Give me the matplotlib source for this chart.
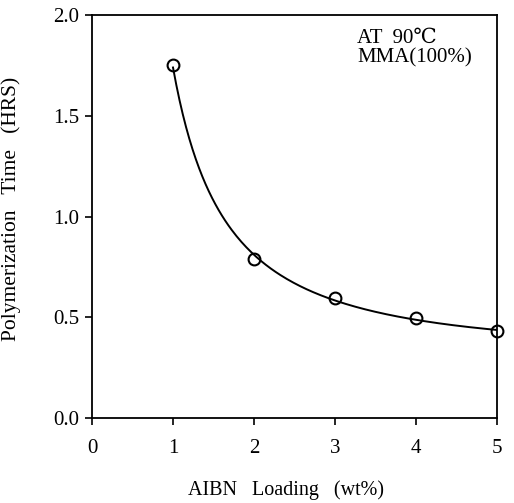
import numpy as np
import matplotlib
matplotlib.use('Agg')
import matplotlib.pyplot as plt

plt.rcParams['font.family'] = ['Liberation Serif', 'DejaVu Serif']

aibn = [1, 2, 3, 4, 5]
poly_time = [1.75, 0.79, 0.595, 0.495, 0.43]
xticks = [0, 1, 2, 3, 4, 5]
yticks = [0.0, 0.5, 1.0, 1.5, 2.0]

fig = plt.figure(figsize=(5.14, 5.03), dpi=100)
ax = fig.add_axes([0.179, 0.169, 0.788, 0.801])

# smooth trend line: quadratic fit in log-log space
coef = np.polyfit(np.log(aibn), np.log(poly_time), 2)
xs = np.linspace(1, 5, 200)
ax.plot(xs, np.exp(np.polyval(coef, np.log(xs))), color='black', linewidth=1.4)
ax.plot(aibn, poly_time, linestyle='none', marker='o', markersize=8.5,
        markerfacecolor='none', markeredgecolor='black', markeredgewidth=1.5,
        clip_on=False)

ax.set_xlim(0, 5)
ax.set_ylim(0, 2.0)
ax.set_xticks(xticks)
ax.set_yticks(yticks)
ax.set_xticklabels([str(t) for t in xticks])
ax.set_yticklabels(['%.1f' % t for t in yticks])
ax.tick_params(direction='out', length=5, width=1.2, labelsize=15)
ax.tick_params(axis='x', pad=10)
ax.tick_params(axis='y', pad=4)
for s in ax.spines.values():
    s.set_linewidth(1.3)

ax.set_xlabel('AIBN   Loading   (wt%)', fontsize=14.5, labelpad=16)
ax.xaxis.set_label_coords(0.48, -0.155)
ax.set_ylabel('Polymerization   Time   (HRS)', fontsize=15.5)
ax.yaxis.set_label_coords(-0.175, 0.52)
ax.text(0.655, 0.965, 'AT  90\u2103\nMMA(100%)', transform=ax.transAxes,
        fontsize=15, va='top', ha='left', linespacing=1.0)

fig.savefig('out.png', dpi=100)
